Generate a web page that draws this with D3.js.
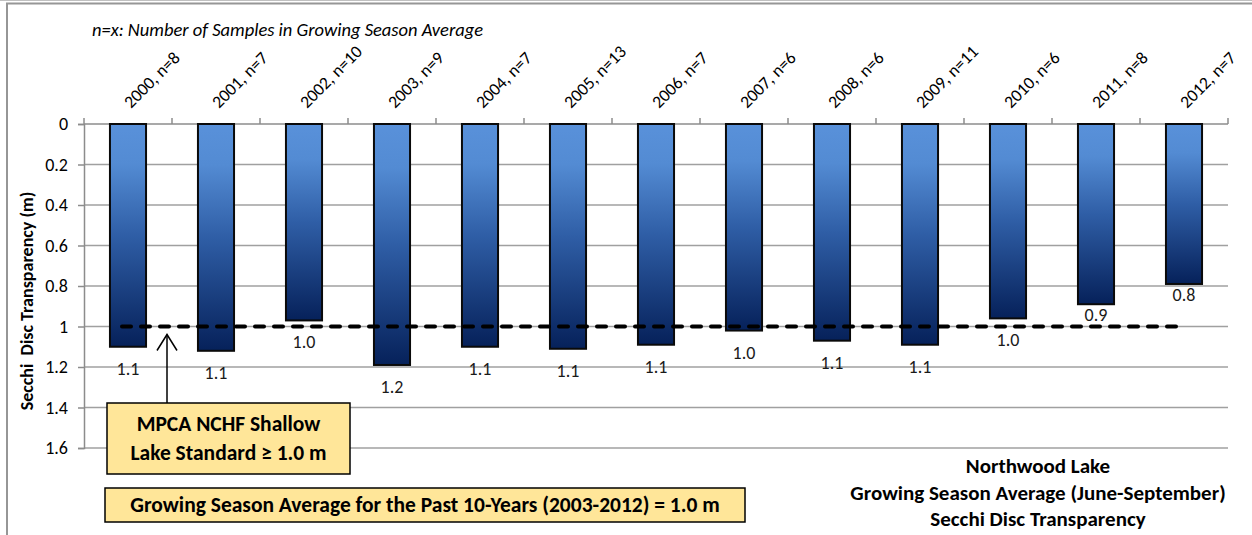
<!DOCTYPE html>
<html>
<head>
<meta charset="utf-8">
<script src="https://cdn.jsdelivr.net/npm/d3@7"></script>
<style>
  body { margin: 0; background: #fff; }
  svg text { font-family: Carlito, Calibri, Lato, sans-serif; white-space: pre; }
</style>
</head>
<body>
<div id="area"></div>
<script>
var years = ['2000', '2001', '2002', '2003', '2004', '2005', '2006', '2007', '2008', '2009', '2010', '2011', '2012'];
var samples = [8, 7, 10, 9, 7, 13, 7, 6, 6, 11, 6, 8, 7];
var secchi = [1.10, 1.12, 0.97, 1.19, 1.10, 1.11, 1.09, 1.02, 1.07, 1.09, 0.96, 0.89, 0.79];
var standard = 1.0;
var yTicks = [0, 0.2, 0.4, 0.6, 0.8, 1, 1.2, 1.4, 1.6];

var width = 1252,
    height = 535;

var plotLeft = 84, plotRight = 1228, plotTop = 124, plotBottom = 448;
var fontFamily = 'Carlito, Calibri, Lato, sans-serif';

var svg = d3.select('#area').append('svg')
    .attr('width', width)
    .attr('height', height);

// chart border (only top and left edges are visible)
svg.append('line')
    .attr('x1', 0).attr('x2', width).attr('y1', 0.5).attr('y2', 0.5)
    .attr('stroke', '#c0c0c0').attr('stroke-width', 1);
svg.append('rect')
    .attr('x', 7).attr('y', 3.5)
    .attr('width', width + 20).attr('height', height + 20)
    .attr('fill', 'none')
    .attr('stroke', '#969696')
    .attr('stroke-width', 2);

var defs = svg.append('defs');
var grad = defs.append('linearGradient')
    .attr('id', 'barGrad')
    .attr('x1', 0).attr('y1', 0).attr('x2', 0).attr('y2', 1);
grad.append('stop').attr('offset', '0%').attr('stop-color', '#5991da');
grad.append('stop').attr('offset', '18%').attr('stop-color', '#538bd3');
grad.append('stop').attr('offset', '50%').attr('stop-color', '#2f5ea6');
grad.append('stop').attr('offset', '100%').attr('stop-color', '#06215a');

var x = d3.scaleBand().domain(years).range([plotLeft, plotRight]).paddingInner(0.59).paddingOuter(0.295);
var xb = d3.scaleBand().domain(years).range([plotLeft, plotRight]);
var y = d3.scaleLinear().domain([0, 1.6]).range([plotTop, plotBottom]);

// gridlines
svg.append('g').selectAll('line')
    .data(yTicks.slice(1))
    .join('line')
    .attr('x1', plotLeft).attr('x2', plotRight)
    .attr('y1', function(d) { return y(d); })
    .attr('y2', function(d) { return y(d); })
    .attr('stroke', '#a0a0a0')
    .attr('stroke-width', 1.5);

// y axis
var yAxis = svg.append('g')
    .attr('transform', 'translate(' + plotLeft + ',0)')
    .call(d3.axisLeft(y).tickValues(yTicks).tickSize(6).tickPadding(10)
      .tickFormat(function(d) { return d3.format('')(+d.toFixed(1)); }));
yAxis.select('.domain').attr('stroke', '#8c8c8c').attr('stroke-width', 1.5);
yAxis.selectAll('.tick line').attr('stroke', '#8c8c8c').attr('stroke-width', 1.5);
yAxis.selectAll('.tick text').attr('font-size', 18).attr('font-family', fontFamily).attr('fill', '#000');

// top category axis
var xAxis = svg.append('g')
    .attr('transform', 'translate(0,' + plotTop + ')');
xAxis.append('line')
    .attr('x1', plotLeft).attr('x2', plotRight).attr('y1', 0).attr('y2', 0)
    .attr('stroke', '#8c8c8c').attr('stroke-width', 1.5);
xAxis.selectAll('line.tk')
    .data(years.concat(['end']))
    .join('line')
    .attr('class', 'tk')
    .attr('x1', function(d, i) { return i < years.length ? xb(d) : plotRight; })
    .attr('x2', function(d, i) { return i < years.length ? xb(d) : plotRight; })
    .attr('y1', 0).attr('y2', -6)
    .attr('stroke', '#8c8c8c').attr('stroke-width', 1.5);
xAxis.selectAll('text')
    .data(years)
    .join('text')
    .attr('transform', function(d) {
      return 'translate(' + (xb(d) + xb.bandwidth() / 2 + 3) + ',-15) rotate(-45)';
    })
    .attr('font-size', 17.5)
    .attr('fill', '#000')
    .text(function(d, i) { return d + ', n=' + samples[i]; });

// bars
svg.append('g').selectAll('rect')
    .data(secchi)
    .join('rect')
    .attr('x', function(d, i) { return x(years[i]); })
    .attr('y', y(0))
    .attr('width', x.bandwidth())
    .attr('height', function(d) { return y(d) - y(0); })
    .attr('fill', 'url(#barGrad)')
    .attr('stroke', '#0a0a0a')
    .attr('stroke-width', 2);

// bar labels: just under the bar when that clears the dashed line, else further down
function labelY(d) {
  var near = y(d) + 17;
  if (near < y(standard) - 4) return near;
  return y(d) + 28;
}
svg.append('g').selectAll('text')
    .data(secchi)
    .join('text')
    .attr('x', function(d, i) { return xb(years[i]) + xb.bandwidth() / 2; })
    .attr('y', labelY)
    .attr('text-anchor', 'middle')
    .attr('font-size', 18)
    .attr('fill', '#1a1a1a')
    .text(function(d) { return d.toFixed(1); });

// standard line
var line = d3.line()
    .x(function(d, i) { return xb(years[i]) + xb.bandwidth() / 2 - 6; })
    .y(function() { return y(standard); });
svg.append('path')
    .datum(years)
    .attr('d', line)
    .attr('fill', 'none')
    .attr('stroke', '#000')
    .attr('stroke-width', 4)
    .attr('stroke-linecap', 'round')
    .attr('stroke-dasharray', '9,10');

// y title
svg.append('text')
    .attr('transform', 'translate(33,' + ((plotTop + plotBottom) / 2 + 15) + ') rotate(-90)')
    .attr('text-anchor', 'middle')
    .attr('font-size', 18)
    .attr('font-weight', 'bold')
    .attr('fill', '#000')
    .text('Secchi  Disc Transparency (m)');

// note
svg.append('text')
    .attr('x', 92).attr('y', 36)
    .attr('font-size', 18.5)
    .attr('font-style', 'italic')
    .attr('fill', '#000')
    .text('n=x: Number of Samples in Growing Season Average');

// arrow from standard box to the line
var ax = 167;
svg.append('line')
    .attr('x1', ax).attr('x2', ax)
    .attr('y1', 403).attr('y2', y(standard) + 8)
    .attr('stroke', '#000').attr('stroke-width', 1.5);
svg.append('path')
    .attr('d', 'M' + (ax - 10) + ',' + (y(standard) + 24) + 'L' + ax + ',' + (y(standard) + 8) + 'L' + (ax + 10) + ',' + (y(standard) + 24))
    .attr('fill', 'none').attr('stroke', '#000').attr('stroke-width', 1.5);

// boxes
function noteBox(bx, by, bw, bh, lines) {
  svg.append('rect')
      .attr('x', bx).attr('y', by).attr('width', bw).attr('height', bh)
      .attr('fill', '#ffe699')
      .attr('stroke', '#000')
      .attr('stroke-width', 1.5);
  var n = lines.length;
  lines.forEach(function(t, i) {
    svg.append('text')
        .attr('x', bx + bw / 2)
        .attr('y', by + bh / 2 + (i - (n - 1) / 2) * 29 + 7)
        .attr('text-anchor', 'middle')
        .attr('font-size', 21.5)
        .attr('font-weight', 'bold')
        .attr('fill', '#000')
        .text(t);
  });
}
noteBox(107, 403, 243, 71, ['MPCA NCHF Shallow', 'Lake Standard \u2265 1.0 m']);
noteBox(105, 488, 640, 34, ['Growing Season Average for the Past 10-Years (2003-2012) = 1.0 m']);

// title
var titleLines = ['Northwood Lake', 'Growing Season Average (June-September)', 'Secchi Disc Transparency'];
svg.append('g').selectAll('text')
    .data(titleLines)
    .join('text')
    .attr('x', 1038)
    .attr('y', function(d, i) { return 473 + i * 26.5; })
    .attr('text-anchor', 'middle')
    .attr('font-size', 21)
    .attr('font-weight', 'bold')
    .attr('fill', '#000')
    .text(function(d) { return d; });
</script>
</body>
</html>
